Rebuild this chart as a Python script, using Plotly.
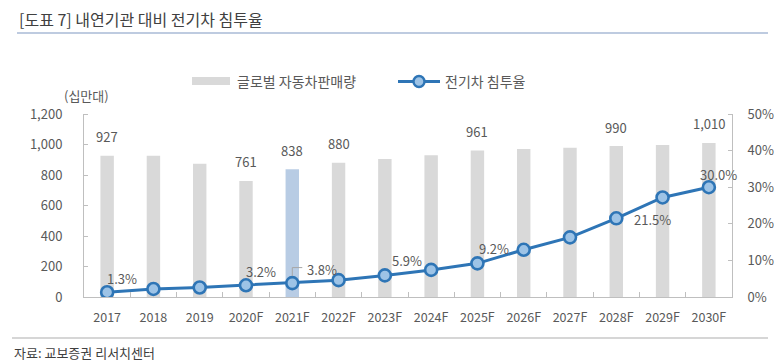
import plotly.graph_objects as go

years = ["2017", "2018", "2019", "2020F", "2021F", "2022F", "2023F",
         "2024F", "2025F", "2026F", "2027F", "2028F", "2029F", "2030F"]
sales = [927, 927, 873, 761, 838, 880, 905, 930, 961, 970, 978, 990, 997, 1010]
ev_share = [1.3, 2.2, 2.6, 3.2, 3.8, 4.6, 5.9, 7.4, 9.2, 12.9, 16.3, 21.5, 27.2, 30.0]
sales_label_years = ["2017", "2020F", "2021F", "2022F", "2025F", "2028F", "2030F"]
share_label_years = ["2017", "2020F", "2021F", "2023F", "2025F", "2028F", "2030F"]
highlight_year = "2021F"

FONT = "Noto Sans CJK KR"
TXT = "#595959"
AX = "#bfbfbf"
BAR = "#d9d9d9"
BAR_HI = "#b8cce4"
LINE = "#2e75b6"
MFILL = "#9dc3e6"

# page body has an 8px margin; positions below are window pixels
OFF = 8
W, H = 782 - OFF, 364 - OFF
L, R, T, B = 84, 732, 114, 297


def px(x):
    return (x - L) / (R - L)


def py(y):
    return (B - y) / (B - T)


bar_colors = [BAR_HI if y == highlight_year else BAR for y in years]

fig = go.Figure()
fig.add_trace(go.Bar(x=years, y=sales, name="글로벌 자동차판매량",
                     marker=dict(color=bar_colors, line=dict(width=0)),
                     yaxis="y", showlegend=False))
# invisible helper so the boundary tick axis knows the categories
fig.add_trace(go.Scatter(x=years, y=sales, xaxis="x2", yaxis="y", mode="markers",
                         marker=dict(opacity=0), hoverinfo="skip", showlegend=False))
fig.add_trace(go.Scatter(x=years, y=ev_share, name="전기차 침투율", yaxis="y2",
                         mode="lines+markers",
                         line=dict(color=LINE, width=3),
                         marker=dict(size=12, color=MFILL, line=dict(color=LINE, width=2.6)),
                         showlegend=False))

annotations = []
for yr in sales_label_years:
    i = years.index(yr)
    v = sales[i]
    annotations.append(dict(x=i, y=v, xref="x", yref="y", text=f"{v:,}",
                            showarrow=False, yshift=19,
                            font=dict(family=FONT, size=13, color=TXT)))
share_offsets = {"2017": (15, 14), "2020F": (15, 14), "2021F": (30, 14),
                 "2023F": (22, 15), "2025F": (17, 15), "2028F": (36, -1),
                 "2030F": (10, 13)}
for yr in share_label_years:
    i = years.index(yr)
    v = ev_share[i]
    dx, dy = share_offsets[yr]
    annotations.append(dict(x=i, y=v, xref="x", yref="y2", text=f"{v:.1f}%",
                            showarrow=False, xshift=dx, yshift=dy,
                            font=dict(family=FONT, size=13, color=TXT)))

annotations += [
    dict(x=px(17), y=py(19), xref="paper", yref="paper", xanchor="left", yanchor="middle",
         text="[도표 7] 내연기관 대비 전기차 침투율", showarrow=False,
         font=dict(family=FONT, size=16, color="#404040")),
    dict(x=px(86), y=py(96), xref="paper", yref="paper", xanchor="center", yanchor="middle",
         text="(십만대)", showarrow=False, font=dict(family=FONT, size=13, color=TXT)),
    dict(x=px(12), y=py(352), xref="paper", yref="paper", xanchor="left", yanchor="middle",
         text="자료: 교보증권 리서치센터", showarrow=False,
         font=dict(family=FONT, size=13, color="#404040")),
    dict(x=px(235), y=py(81), xref="paper", yref="paper", xanchor="left", yanchor="middle",
         text="글로벌 자동차판매량", showarrow=False, font=dict(family=FONT, size=14, color=TXT)),
    dict(x=px(443), y=py(81), xref="paper", yref="paper", xanchor="left", yanchor="middle",
         text="전기차 침투율", showarrow=False, font=dict(family=FONT, size=14, color=TXT)),
]

hi = years.index(highlight_year)
shapes = [
    dict(type="line", xref="paper", yref="paper", x0=px(17), x1=px(768), y0=py(4.5), y1=py(4.5),
         line=dict(color="#4e6fa3", width=3)),
    dict(type="line", xref="paper", yref="paper", x0=px(17), x1=px(768), y0=py(33), y1=py(33),
         line=dict(color="#a8bad6", width=1.5)),
    dict(type="line", xref="paper", yref="paper", x0=px(12), x1=px(768), y0=py(338), y1=py(338),
         line=dict(color="#c8c8c8", width=1.5)),
    dict(type="rect", xref="paper", yref="paper", x0=px(192), x1=px(230), y0=py(85), y1=py(77),
         fillcolor=BAR, line=dict(width=0)),
    dict(type="line", xref="paper", yref="paper", x0=px(398), x1=px(440), y0=py(81.5), y1=py(81.5),
         line=dict(color=LINE, width=3)),
    dict(type="circle", xref="paper", yref="paper", x0=px(413.5), x1=px(424.5), y0=py(87), y1=py(76),
         fillcolor=MFILL, line=dict(color=LINE, width=2.4)),
    dict(type="path", xref="x", yref="y2", xsizemode="pixel", ysizemode="pixel",
         xanchor=hi, yanchor=ev_share[hi],
         path="M 0,7 L 0,15.5 L 10,15.5", line=dict(color="#a6a6a6", width=1)),
]

xrange = [-0.5, len(years) - 0.5]
fig.update_layout(
    width=W, height=H,
    margin=dict(l=L - OFF, r=W + OFF - R, t=T - OFF, b=H + OFF - B, autoexpand=False),
    paper_bgcolor="white", plot_bgcolor="white",
    bargap=0.71,
    font=dict(family=FONT, size=13, color=TXT),
    annotations=annotations, shapes=shapes,
    xaxis=dict(type="category", range=xrange, showline=True, linecolor=AX,
               linewidth=1, ticks="outside", ticklen=9, tickcolor="rgba(0,0,0,0)",
               showgrid=False, tickfont=dict(family=FONT, size=12.5, color=TXT),
               automargin=False),
    xaxis2=dict(type="category", range=xrange, overlaying="x", anchor="y", side="bottom",
                showline=False, ticks="inside", tickson="boundaries", ticklen=5, tickcolor=AX,
                showticklabels=False, showgrid=False, automargin=False),
    yaxis=dict(range=[0, 1200], dtick=200, tickformat=",", showline=True, linecolor=AX,
               linewidth=1, ticks="outside", ticklen=18, tickcolor="rgba(0,0,0,0)",
               minor=dict(ticks="inside", dtick=200, ticklen=4, tickcolor=AX),
               showgrid=False, zeroline=False, tickfont=dict(family=FONT, size=13, color=TXT),
               automargin=False),
    yaxis2=dict(range=[0, 50], dtick=10, ticksuffix="%", overlaying="y", side="right",
                showline=True, linecolor=AX, linewidth=1, ticks="outside", ticklen=12,
                tickcolor="rgba(0,0,0,0)",
                minor=dict(ticks="inside", dtick=10, ticklen=4, tickcolor=AX),
                showgrid=False, zeroline=False,
                tickfont=dict(family=FONT, size=13, color=TXT), automargin=False),
)

fig.write_html("out.html")
